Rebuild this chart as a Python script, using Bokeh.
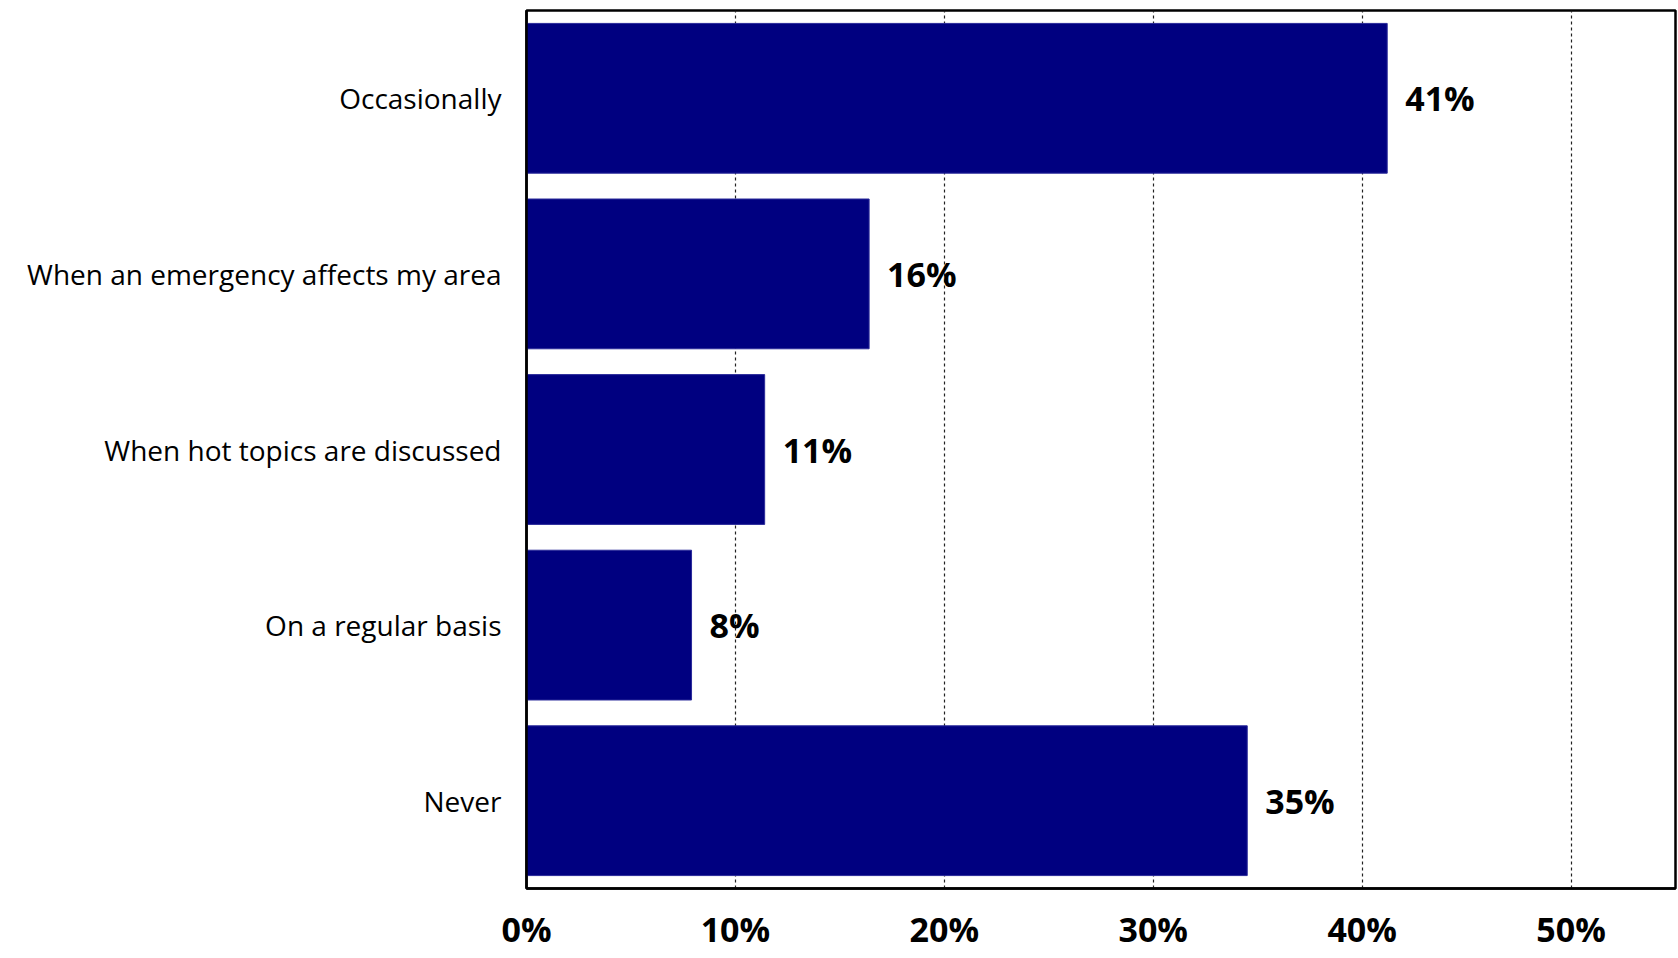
from bokeh.plotting import figure
from bokeh.models import ColumnDataSource, FactorRange, Range1d, FixedTicker, PrintfTickFormatter
from bokeh.core.properties import value
from bokeh.embed import file_html
from bokeh.resources import INLINE

categories = ["Occasionally", "When an emergency affects my area",
              "When hot topics are discussed", "On a regular basis", "Never"]
percents = [41.2, 16.4, 11.4, 7.9, 34.5]
x_ticks = [0, 10, 20, 30, 40, 50]

labels = ["%d%%" % int(v + 0.5) for v in percents]
src = ColumnDataSource(dict(cat=categories, val=percents, lab=labels))

p = figure(
    y_range=FactorRange(*reversed(categories), range_padding=0),
    x_range=Range1d(0, 55),
    frame_width=1149, frame_height=878,
    min_border_left=526, min_border_top=10, min_border_right=3, min_border_bottom=5,
    output_backend="svg", toolbar_location=None,
)
p.background_fill_color = "white"
p.border_fill_color = "white"
p.outline_line_color = "black"
p.outline_line_width = 2.5

p.hbar(y="cat", right="val", left=0, height=0.853, source=src,
       fill_color="#000080", line_color="#2a2a9a", line_width=1)

p.text(x="val", y="cat", text="lab", source=src, x_offset=18,
       text_align="left", text_baseline="middle",
       text_font=value("Open Sans"), text_font_style="bold",
       text_font_size="34px", text_color="black")

p.ygrid.grid_line_color = None
p.xgrid.ticker = FixedTicker(ticks=x_ticks)
p.xgrid.grid_line_color = "#222222"
p.xgrid.grid_line_dash = "3 3"
p.xgrid.grid_line_width = 1.2

p.xaxis.ticker = FixedTicker(ticks=x_ticks)
p.xaxis.formatter = PrintfTickFormatter(format="%d%%")
p.xaxis.major_label_text_font = "Open Sans"
p.xaxis.major_label_text_font_style = "bold"
p.xaxis.major_label_text_font_size = "34px"
p.xaxis.major_label_text_color = "black"
p.xaxis.major_label_standoff = 11
p.xaxis.axis_line_color = "black"
p.xaxis.axis_line_width = 2.5
p.xaxis.major_tick_line_color = None
p.xaxis.minor_tick_line_color = None

p.yaxis.major_label_text_font = "Open Sans"
p.yaxis.major_label_text_font_size = "28px"
p.yaxis.major_label_text_color = "black"
p.yaxis.major_label_standoff = 19
p.yaxis.axis_line_color = "black"
p.yaxis.axis_line_width = 2.5
p.yaxis.major_tick_line_color = None
p.yaxis.minor_tick_line_color = None

open("out.html", "w").write(file_html(p, INLINE))
